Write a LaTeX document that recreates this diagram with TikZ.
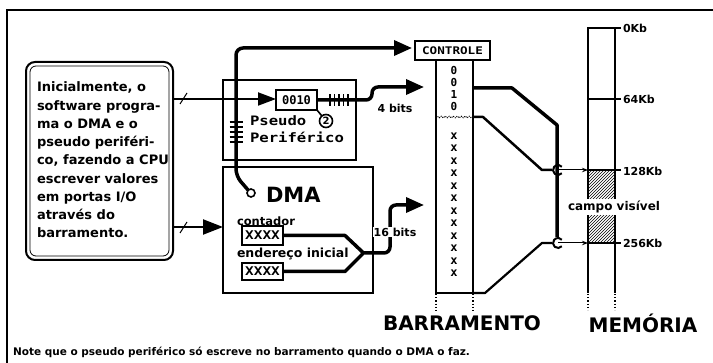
\documentclass[tikz,border=0pt]{standalone}
\usepackage{fontspec}
\setmainfont{DejaVu Sans}
\newfontfamily\monof{DejaVu Sans Mono}[FakeStretch=1.2]
\newfontfamily\monon{DejaVu Sans Mono}
\usetikzlibrary{arrows.meta,patterns,decorations.pathmorphing}
\begin{document}
\begin{tikzpicture}[x=1pt,y=-1pt,
  every node/.style={inner sep=0pt,outer sep=0pt},
  heavy/.style={line width=3.5pt},
  bigtip/.style={-{Triangle[length=18pt,width=15pt]}},
  boxline/.style={draw,line width=1.6pt},
  lbl/.style={font=\bfseries\fontsize{11}{12}\selectfont},
  lblw/.style={lbl,fill=white,inner sep=1pt},
  mlbl/.style={font=\bfseries\fontsize{11.5}{12}\selectfont,anchor=west},
  tick/.style={line width=1.3pt},
  smalltip/.style={-{Stealth[length=6pt,width=4.5pt]}},
  busch/.style={font=\monon\bfseries\fontsize{11}{11}\selectfont},
]
\useasboundingbox (0,0) rectangle (713,363);
% frame
\draw[line width=1.8pt] (7,363) -- (7,10) -- (713,10);

% text box
\node[draw,line width=2pt,rounded corners=9pt,minimum width=147pt,minimum height=198pt] (tb) at (99.5,161) {};
\draw[line width=0.8pt,rounded corners=6pt] (30,66) rectangle (169,256);
\node[anchor=north west,align=left,font=\bfseries\fontsize{13}{18.25}\selectfont] (tbtext) at (37,82)
 {Inicialmente, o\\software progra-\\ma o DMA e o\\pseudo periféri-\\co, fazendo a CPU\\escrever valores\\em portas I/O\\através do\\barramento.};

% pseudo peripheral
\node[boxline,minimum width=133pt,minimum height=80pt] (pp) at (289.5,120) {};
\node[anchor=north west,align=left,font=\monof\bfseries\fontsize{13}{16.5}\selectfont] (pptext) at (250,116) {Pseudo\\Periférico};
\node[draw,line width=1.6pt,minimum width=41pt,minimum height=20pt,font=\monon\bfseries\fontsize{12}{12}\selectfont] (reg) at (296.5,100) {0010};
\node[draw,circle,line width=1.6pt,minimum size=13pt,font=\bfseries\fontsize{10}{10}\selectfont] (c2) at (326,121) {2};
\draw[line width=1.6pt] (reg.south east) -- (c2);

% DMA
\node[boxline,minimum width=150pt,minimum height=126pt] (dma) at (298,230) {};
\node[draw,circle,line width=1.6pt,minimum size=8pt] (dmac) at (251,193) {};
\node[anchor=west,font=\bfseries\fontsize{21}{21}\selectfont] (dmat) at (266,195) {DMA};
\node[mlbl] (cont) at (237,221) {contador};
\node[draw,line width=1.6pt,minimum width=41pt,minimum height=19pt,font=\monof\bfseries\fontsize{12}{12}\selectfont] (x1) at (262.5,235.5) {XXXX};
\node[mlbl,font=\bfseries\fontsize{12.5}{12}\selectfont] (ender) at (237,254) {endereço inicial};
\node[draw,line width=1.6pt,minimum width=41pt,minimum height=17pt,font=\monof\bfseries\fontsize{12}{12}\selectfont] (x2) at (262.5,271.5) {XXXX};
\draw[heavy,line join=round] (x1.east) -- (345,235.5) -- (363,252.5);
\draw[heavy,line join=round] (x2.east) -- (345,271.5) -- (363,253.5);
\coordinate (b16) at (424,205);
\draw[heavy,rounded corners=6pt,bigtip] (361,253) -- (390,253) -- (390,205) -- (b16);
\node[lblw] (l16) at (395,232) {16 bits};

% control line
\node[draw,line width=1.8pt,minimum width=75pt,minimum height=19pt,font=\monof\bfseries\fontsize{10.5}{10.5}\selectfont] (ctl) at (452.5,50.5) {CONTROLE};
\draw[heavy,rounded corners=7pt,bigtip,shorten >=3pt] (dmac.north west) -- (236,176) -- (236,48) -- (ctl.west |- 0,48);
\foreach \y in {122,127,132,137,142} \draw[tick] (229.5,\y) -- (242.5,\y);

% 4 bits
\coordinate (b4) at (424,87);
\draw[heavy,rounded corners=6pt,bigtip] (reg.east) -- (372,100) -- (372,87) -- (b4);
\foreach \x in {330,334.5,339,343.5,348} \draw[tick] (\x,94.5) -- (\x,106);
\node[lbl] (l4) at (395,108) {4 bits};

% inputs from text box
\draw[line width=2pt,-{Triangle[length=18pt,width=13pt]}] (tb.east |- 0,99) -- (reg.west |- 0,99);
\draw[line width=1pt] (180,104) -- (187,93);
\draw[line width=2.2pt,-{Triangle[length=20pt,width=15pt]}] (tb.east |- 0,227) -- (dma.west |- 0,227);
\draw[line width=1pt] (180,233) -- (187,222);

% bus
\node[draw,line width=2pt,minimum width=37pt,minimum height=233pt] (bus) at (454.5,176.5) {};
\foreach \d/\y in {0/70,0/82,1/94,0/106} \node[busch] at (454,\y) {\d};
\draw[line width=1pt,densely dotted,decorate,decoration={snake,amplitude=0.8pt,segment length=4pt}] (436,117) -- (473,117);
\foreach \i in {0,...,11} \node[busch,font=\monon\bfseries\fontsize{12}{12}\selectfont] at (454,136+12.5*\i) {x};
\draw[line width=1.2pt,dotted] (436,294) -- (436,312);
\draw[line width=1.2pt,dotted] (473,294) -- (473,312);

% hooks
\coordinate (h1) at (558,170);
\coordinate (h2) at (558,243);
\draw[line width=3.5pt,line join=round] (bus.east |- 0,88) -- (512,88) -- (557,125) -- (557,237);
\draw[line width=2.5pt,line join=round] (bus.east |- 0,117) -- (483,117) -- (542,170) -- (552,170);
\draw[line width=2.2pt,line join=round] (bus.south east) -- (485,293) -- (542,243) -- (552,243);
\draw[line width=2pt] (h1) ++(40:5) arc[start angle=40,end angle=320,radius=5];
\draw[line width=2pt] (h2) ++(40:5) arc[start angle=40,end angle=320,radius=5];

% memory
\coordinate (memL) at (588,0);
\fill[pattern=north east lines] (588,170) rectangle (615,243);
\draw[line width=1.8pt] (588,293) -- (588,28) -- (621,28);
\draw[line width=1.8pt] (615,28) -- (615,293);
\foreach \y in {99,170,243} \draw[line width=1.8pt] (588,\y) -- (621,\y);
\draw[line width=1.2pt,dotted] (588,294) -- (588,310);
\draw[line width=1.2pt,dotted] (615,294) -- (615,310);
\draw[line width=1pt,smalltip] (h1) -- (memL |- h1);
\draw[line width=1pt,smalltip] (h2) -- (memL |- h2);
\node[lbl,anchor=west] (k0) at (623,28) {0Kb};
\node[lbl,anchor=west] (k64) at (623,99) {64Kb};
\node[lbl,anchor=west] (k128) at (623,171) {128Kb};
\node[lbl,anchor=west] (k256) at (623,243) {256Kb};
\node[font=\bfseries\fontsize{12}{12}\selectfont,fill=white,inner sep=1.5pt] (campo) at (614,207) {campo visível};

% titles
\node[font=\bfseries\fontsize{20}{20}\selectfont] (tbar) at (462,323) {BARRAMENTO};
\node[font=\bfseries\fontsize{20}{20}\selectfont] (tmem) at (643,323) {MEMÓRIA};
\node[anchor=west,font=\bfseries\fontsize{10.5}{11}\selectfont] (note) at (13,352) {Note que o pseudo periférico só escreve no barramento quando o DMA o faz.};
\end{tikzpicture}
\end{document}
